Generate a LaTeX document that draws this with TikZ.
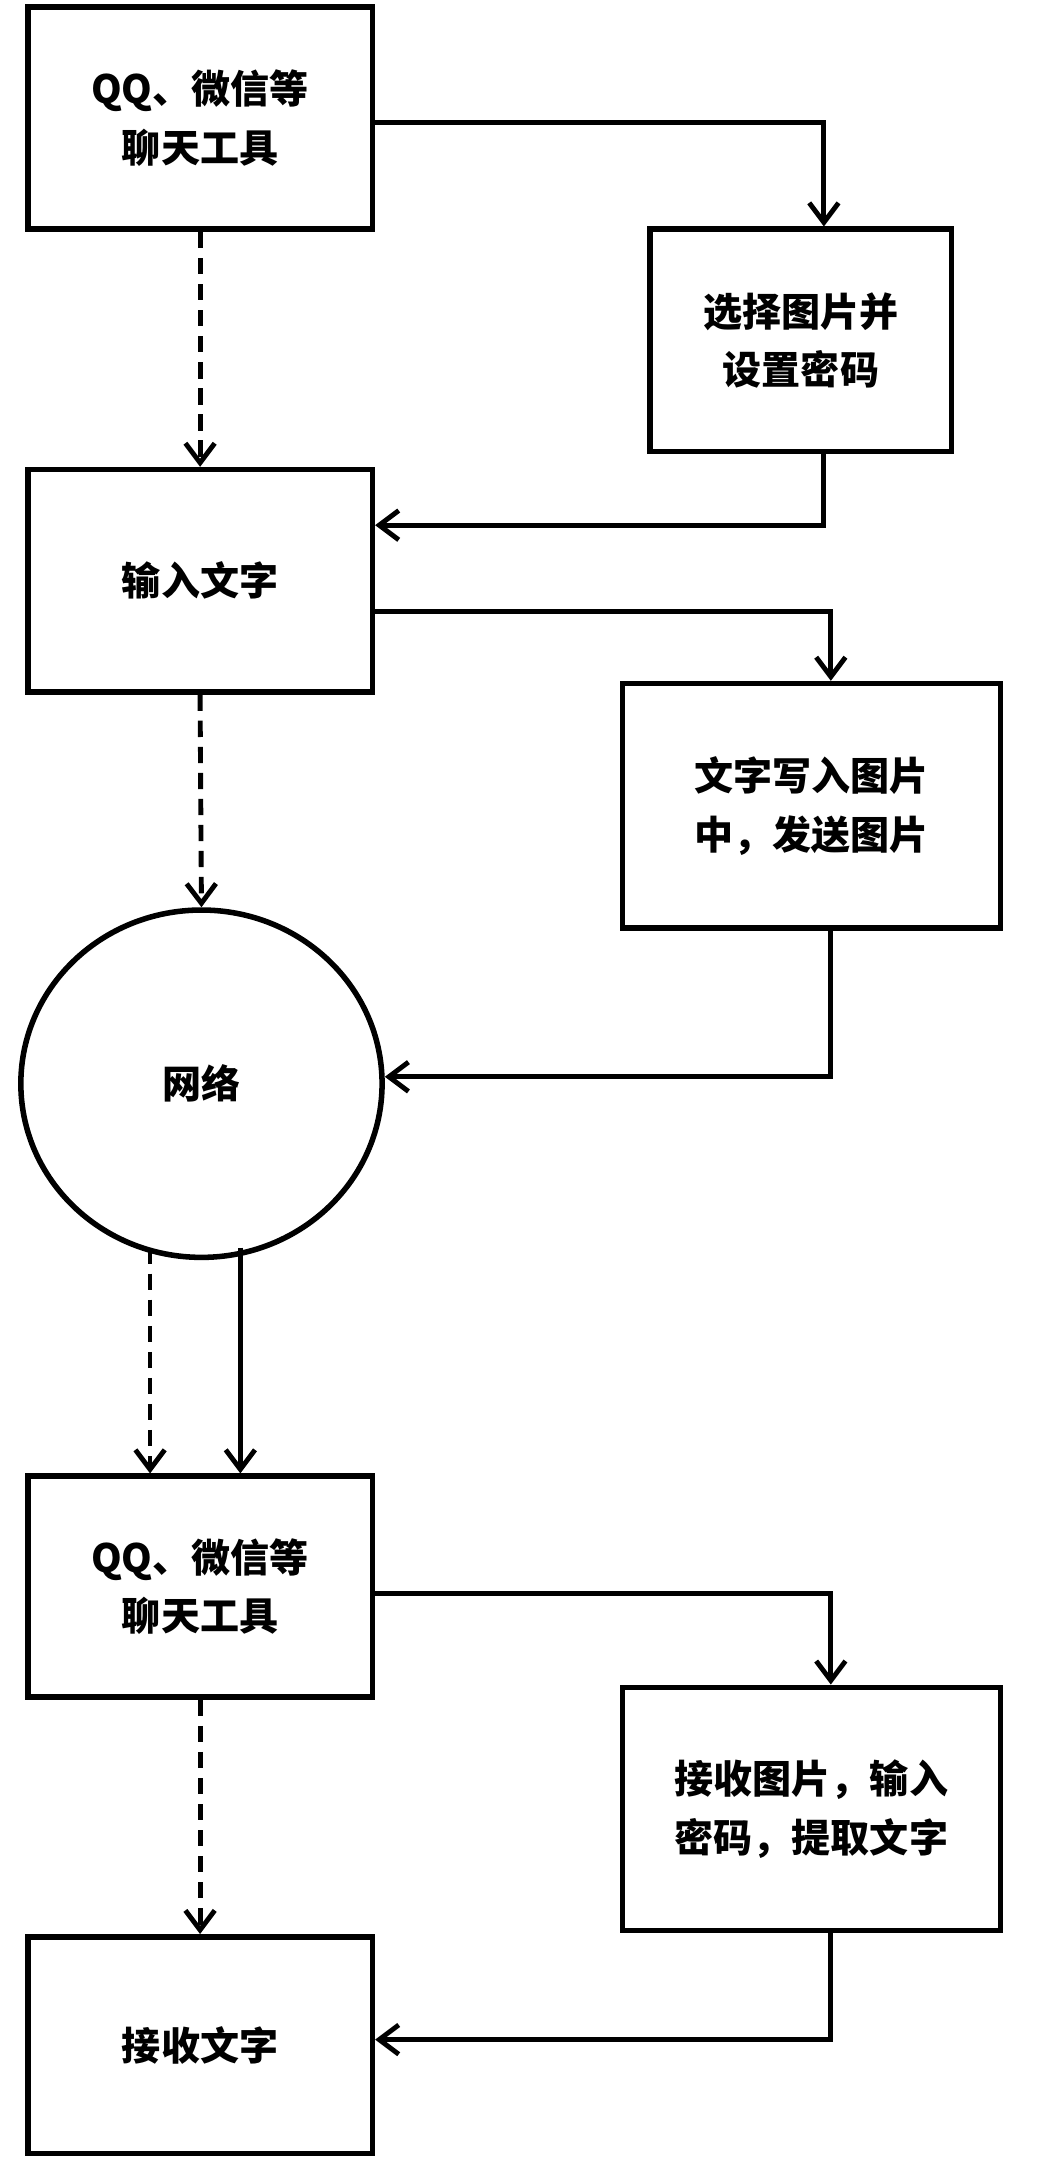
\documentclass[tikz,border=0pt]{standalone}
\usepackage{fontspec}
\setmainfont{Noto Sans CJK SC}
\usetikzlibrary{arrows.meta,calc,shapes.geometric}
\begin{document}
\begin{tikzpicture}[x=0.03cm,y=-0.03cm,
  box/.style={draw,line width=3.4pt,align=center,font=\fontsize{24}{36}\selectfont\bfseries,inner sep=0pt},
  ln/.style={line width=3pt,-{Straight Barb[length=12pt,width=18pt,line width=3pt]}},
  dl/.style={ln,dash pattern=on 10pt off 6pt}]
\useasboundingbox (0,0) rectangle (750,1559);
\node[box,minimum width=7.44cm,minimum height=4.8cm] (b1) at (144,85) {QQ、微信等\\聊天工具};
\node[box,minimum width=6.51cm,minimum height=4.8cm] (b2) at (576.5,245) {选择图片并\\设置密码};
\node[box,minimum width=7.44cm,minimum height=4.8cm] (b3) at (144,418) {输入文字};
\node[box,minimum width=8.16cm,minimum height=5.28cm] (b4) at (584,580) {文字写入图片\\中，发送图片};
\node[box,ellipse,minimum width=7.8cm,minimum height=7.5cm] (net) at (145,780) {网络};
\node[box,minimum width=7.44cm,minimum height=4.77cm] (b5) at (144,1142) {QQ、微信等\\聊天工具};
\node[box,minimum width=8.16cm,minimum height=5.25cm] (b6) at (584,1302) {接收图片，输入\\密码，提取文字};
\node[box,minimum width=7.44cm,minimum height=4.68cm] (b7) at (144,1472) {接收文字};
\draw[ln] (b1.east|-0,88) -| (b2.north-|593,0);
\draw[ln] (b2.south-|593,0) |- (b3.east|-0,378);
\draw[ln] (b3.east|-0,440) -| (b4.north-|598,0);
\draw[ln] (b4.south-|598,0) |- (net.east|-0,775);
\draw[dl] (b1.south) -- (b3.north);
\draw[dl] (b3.south) -- (net.north);
\coordinate (n1) at (108,898);
\coordinate (n2) at (173,898);
\draw[dl] (n1) -- (b5.north-|n1);
\draw[ln] (n2) -- (b5.north-|n2);
\draw[ln] (b5.east|-0,1147) -| (b6.north-|598,0);
\draw[ln] (b6.south-|598,0) |- (b7.east|-0,1468);
\draw[dl] (b5.south) -- (b7.north);
\end{tikzpicture}
\end{document}
